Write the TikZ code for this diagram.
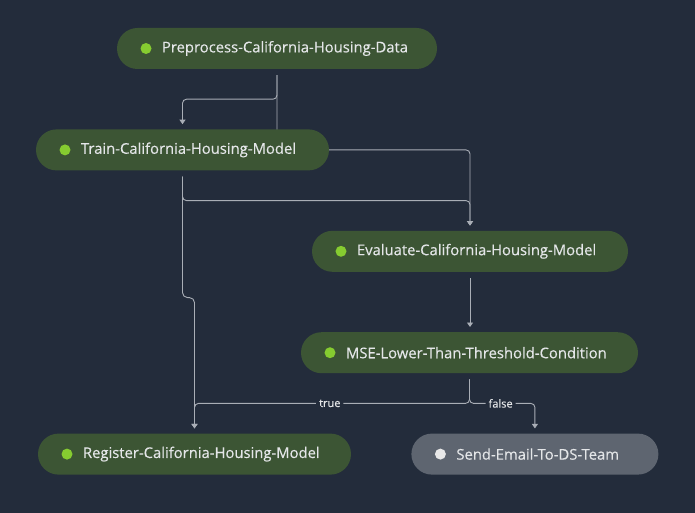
\documentclass[tikz,border=0pt]{standalone}
\usepackage{fontspec}
\setmainfont{Open Sans}
\newfontfamily\stepfont{Open Sans}[FakeBold=0.35]
\usepackage{tikz}
\usetikzlibrary{positioning}
\usetikzlibrary{calc}
\usetikzlibrary{arrows.meta}
\definecolor{bgc}{HTML}{232C3B}
\definecolor{nodegreen}{HTML}{3C5534}
\definecolor{dotgreen}{HTML}{86CC30}
\definecolor{idlegrey}{HTML}{5E6570}
\definecolor{idledot}{HTML}{E8E8E8}
\definecolor{labeltext}{HTML}{E4E6E8}
\definecolor{linec}{HTML}{A9AEB6}
\pgfdeclarelayer{edges}
\pgfsetlayers{edges,main}
\tikzset{stepnode/.style={rectangle, rounded corners=20.5pt, fill=nodegreen, minimum height=41pt, inner sep=0pt, text width=#1, align=left, text=labeltext, font=\stepfont\fontsize{14.8pt}{17pt}\selectfont, path picture={\fill[dotgreen] ([xshift=29pt]path picture bounding box.west) circle (5.5pt);}}}
\tikzset{idle/.style={fill=idlegrey, path picture={\fill[idledot] ([xshift=29pt]path picture bounding box.west) circle (5.5pt);}}}
\tikzset{edgeline/.style={draw=linec, line width=0.9pt, rounded corners=4pt, shorten <=6pt, shorten >=5pt, -{Triangle[width=6pt,length=4.5pt]}}}
\tikzset{lbl/.style={fill=bgc, inner xsep=3pt, inner ysep=1pt, text=labeltext, font=\stepfont\fontsize{11pt}{13pt}\selectfont}}

\begin{document}
\begin{tikzpicture}[x=1pt, y=-1pt, node distance=60pt]
\node[stepnode=320pt] (pre) at (277,48.5) {\hspace*{45pt}Preprocess-California-Housing-Data};
\node[stepnode=293pt, below=of pre, xshift=-94.5pt] (train) {\hspace*{45pt}Train-California-Housing-Model};
\node[stepnode=316pt, below=of train, xshift=287.5pt] (eval) {\hspace*{45pt}Evaluate-California-Housing-Model};
\node[stepnode=337pt, below=of eval, xshift=-0.5pt] (mse) {\hspace*{45pt}MSE-Lower-Than-Threshold-Condition};
\node[stepnode=313pt, below=of mse, xshift=-275pt] (reg) {\hspace*{45pt}Register-California-Housing-Model};
\node[stepnode=247pt, idle, right=of reg] (send) {\hspace*{45pt}Send-Email-To-DS-Team};

\begin{pgfonlayer}{edges}
\fill[bgc] (0,0) rectangle (695,513);
\draw[edgeline] (pre.south) -- ++(0,30) -| (train.north);
\draw[edgeline] (pre.south) |- (train.east -| eval.north) -- (eval.north);
\draw[edgeline] (train.south) -- ++(0,30) -| (eval.north);
\draw[edgeline, rounded corners=5pt] (train.south) -- ++(0,127) -| (reg.north);
\draw[edgeline] (eval.south) -- (eval.south |- mse.north);
\draw[edgeline] (mse.south) -- ++(0,30) -| node[lbl, pos=0.254] {true} (reg.north);
\draw[edgeline] (mse.south) -- ++(0,30) -| node[lbl, pos=0.238] {false} (send.north);
\end{pgfonlayer}
\end{tikzpicture}
\end{document}
